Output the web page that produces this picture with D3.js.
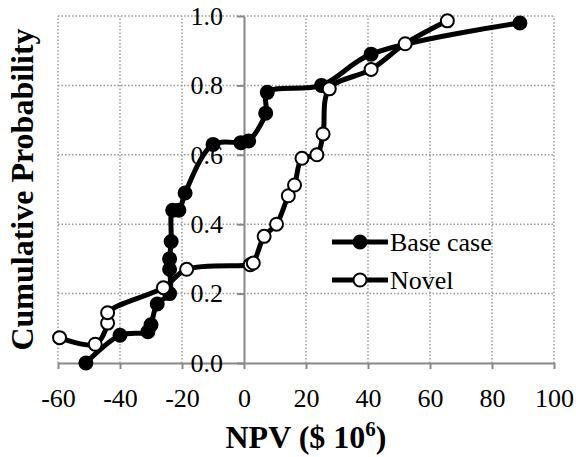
<!DOCTYPE html>
<html>
<head>
<meta charset="utf-8">
<script src="https://cdn.jsdelivr.net/npm/d3@7"></script>
<style>
  body { margin: 0; background: #fff; }
  svg text { font-family: "Times New Roman", "Liberation Serif", Times, Tinos, serif; fill: #000; }
</style>
</head>
<body>
<div id="chart"></div>
<script>
// values
var baseX = [-51, -40, -31, -30, -28, -24, -24, -24, -23.5, -23, -21, -19, -10, -1, 1.5, 7, 7.5, 25, 41, 89];
var baseY = [0.0, 0.08, 0.09, 0.11, 0.17, 0.2, 0.27, 0.3, 0.35, 0.44, 0.44, 0.49, 0.63, 0.635, 0.64, 0.72, 0.78, 0.8, 0.89, 0.98];
var novelX = [-59.5, -48, -44, -44, -26, -18.5, 2, 3, 6.5, 10.5, 14.3, 16.3, 18.7, 23.5, 25.5, 27.5, 41, 52, 65.6];
var novelY = [0.073, 0.054, 0.115, 0.145, 0.217, 0.27, 0.283, 0.288, 0.365, 0.4, 0.482, 0.513, 0.59, 0.6, 0.66, 0.79, 0.846, 0.92, 0.986];
var xTicks = [-60, -40, -20, 0, 20, 40, 60, 80, 100];
var yTicks = [0, 0.2, 0.4, 0.6, 0.8, 1.0];
var seriesNames = ["Base case", "Novel"];

var width = 576, height = 457,
    margin = {top: 16, right: 22, bottom: 94, left: 58};

var svg = d3.select("#chart").append("svg")
    .attr("width", width)
    .attr("height", height);

var x = d3.scaleLinear().domain([-60, 100]).range([margin.left, width - margin.right]);
var y = d3.scaleLinear().domain([0, 1]).range([height - margin.bottom, margin.top]);

// dotted grid
var grid = svg.append("g").attr("stroke", "#999").attr("stroke-width", 1.5).attr("stroke-dasharray", "1.5,2");
grid.selectAll(".vg").data(xTicks.filter(function(d) { return d !== 0; }))
  .enter().append("line")
    .attr("x1", function(d) { return x(d); }).attr("x2", function(d) { return x(d); })
    .attr("y1", y(0)).attr("y2", y(1));
grid.selectAll(".hg").data(yTicks.filter(function(d) { return d !== 0; }))
  .enter().append("line")
    .attr("x1", x(-60)).attr("x2", x(100))
    .attr("y1", function(d) { return y(d); }).attr("y2", function(d) { return y(d); });

// axes cross at zero
var xAxis = svg.append("g")
    .attr("transform", "translate(0," + y(0) + ")")
    .call(d3.axisBottom(x).tickValues(xTicks).tickSize(6).tickSizeOuter(0).tickPadding(20)
      .tickFormat(function(d) { return String(d); }));
var yAxis = svg.append("g")
    .attr("transform", "translate(" + x(0) + ",0)")
    .call(d3.axisLeft(y).tickValues(yTicks).tickSize(7).tickSizeOuter(0).tickPadding(14)
      .tickFormat(d3.format(".1f")));

[xAxis, yAxis].forEach(function(a) {
  a.attr("font-family", null);
  a.select(".domain").attr("stroke", "#888").attr("stroke-width", 2);
  a.selectAll(".tick line").attr("stroke", "#888").attr("stroke-width", 2);
  a.selectAll("text").attr("font-size", 26).attr("fill", "#000");
});

var line = d3.line()
    .x(function(d) { return x(d[0]); })
    .y(function(d) { return y(d[1]); })
    .curve(d3.curveCatmullRom.alpha(0.5));

var series = [
  {name: seriesNames[0], pts: d3.zip(baseX, baseY), fill: "#000"},
  {name: seriesNames[1], pts: d3.zip(novelX, novelY), fill: "#fff"}
];

series.forEach(function(s) {
  svg.append("path")
      .datum(s.pts)
      .attr("fill", "none")
      .attr("stroke", "#000")
      .attr("stroke-width", 5)
      .attr("d", line);
  svg.append("g").selectAll("circle")
      .data(s.pts)
    .enter().append("circle")
      .attr("cx", function(d) { return x(d[0]); })
      .attr("cy", function(d) { return y(d[1]); })
      .attr("r", 6.5)
      .attr("fill", s.fill)
      .attr("stroke", "#000")
      .attr("stroke-width", 2);
});

// legend
var legend = svg.append("g").attr("transform", "translate(332,242)");
var item = legend.selectAll(".item").data(series)
  .enter().append("g")
    .attr("transform", function(d, i) { return "translate(0," + (i * 38) + ")"; });
item.append("line")
    .attr("x1", 0).attr("x2", 56)
    .attr("stroke", "#000").attr("stroke-width", 5);
item.append("circle")
    .attr("cx", 28).attr("r", 6.5)
    .attr("fill", function(d) { return d.fill; })
    .attr("stroke", "#000").attr("stroke-width", 2);
item.append("text")
    .attr("x", 58).attr("y", 9)
    .attr("font-size", 26)
    .text(function(d) { return d.name; });

// axis titles
var xt = svg.append("text")
    .attr("x", (x(-60) + x(100)) / 2)
    .attr("y", 448)
    .attr("text-anchor", "middle")
    .attr("font-size", 32)
    .attr("font-weight", "bold");
xt.append("tspan").text("NPV ($ 10");
xt.append("tspan").attr("font-size", 21).attr("dy", -12).text("6");
xt.append("tspan").attr("dy", 12).text(")");

svg.append("text")
    .attr("transform", "translate(33," + (y(0) + y(1)) / 2 + ") rotate(-90)")
    .attr("text-anchor", "middle")
    .attr("font-size", 32)
    .attr("font-weight", "bold")
    .text("Cumulative Probability");
</script>
</body>
</html>
